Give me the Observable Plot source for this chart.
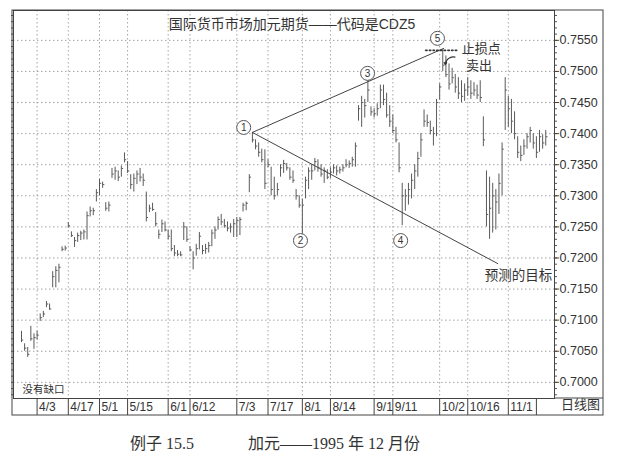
<!DOCTYPE html>
<html><head><meta charset="utf-8">
<script src="https://cdn.jsdelivr.net/npm/d3@7"></script>
<script src="https://cdn.jsdelivr.net/npm/@observablehq/plot@0.6"></script>
<style>
body{margin:0;background:#fff;width:620px;height:462px;position:relative;overflow:hidden}
#chart{position:absolute;left:0;top:0}
.cap{position:absolute;top:430px;font-family:'Liberation Serif','Noto Sans CJK SC',serif;font-size:16px;color:#333;white-space:pre}
</style></head>
<body>
<div id="chart"></div>
<div class="cap" style="left:130px">例子 15.5</div>
<div class="cap" style="left:248px">加元——1995 年 12 月份</div>
<script>
const title = "国际货币市场加元期货——代码是CDZ5";
const dateTicks = [5,15,25,34,47,54,69,79,90,99,113,119,134,143,156];
const dateLabels = ["4/3","4/17","5/1","5/15","6/1","6/12","7/3","7/17","8/1","8/14","9/1","9/11","10/2","10/16","11/1"];
const rowEnd = 165;
const yTicks = [0.7000,0.7050,0.7100,0.7150,0.7200,0.7250,0.7300,0.7350,0.7400,0.7450,0.7500,0.7550];

const highs = [.7082,.7062,.7056,.7090,.7078,.7082,.7110,.7114,.7130,.7126,
.7178,.7186,.7190,.7218,.7219,.7257,.7242,.7233,.7240,.7243,
.7245,.7274,.7282,.7280,.7310,.7326,.7322,.7289,.7290,.7344,
.7346,.7340,.7348,.7369,.7355,.7334,.7335,.7340,.7344,.7335,
.7306,.7285,.7288,.7273,.7245,.7261,.7258,.7245,.7245,.7220,
.7212,.7210,.7257,.7250,.7218,.7210,.7222,.7241,.7220,.7222,
.7225,.7245,.7250,.7266,.7270,.7262,.7258,.7255,.7262,.7265,
.7265,.7288,.7290,.7334,.7402,.7390,.7385,.7375,.7374,.7358,
.7346,.7330,.7320,.7350,.7357,.7352,.7345,.7340,.7310,.7300,
.7294,.7330,.7345,.7350,.7360,.7358,.7350,.7345,.7342,.7345,
.7350,.7348,.7346,.7350,.7358,.7356,.7362,.7385,.7445,.7460,
.7455,.7488,.7443,.7440,.7448,.7478,.7478,.7465,.7445,.7430,
.7410,.7385,.7320,.7310,.7320,.7335,.7350,.7370,.7400,.7438,
.7430,.7420,.7410,.7455,.7480,.7535,.7525,.7512,.7505,.7495,
.7490,.7485,.7480,.7490,.7485,.7482,.7478,.7485,.7427,.7340,
.7330,.7320,.7310,.7335,.7385,.7490,.7460,.7455,.7435,.7395,
.7380,.7390,.7400,.7410,.7400,.7395,.7405,.7398,.7405];
const lows = [.7064,.7050,.7040,.7066,.7053,.7068,.7098,.7104,.7120,.7116,
.7152,.7152,.7160,.7210,.7211,.7248,.7233,.7217,.7225,.7228,
.7229,.7229,.7266,.7268,.7290,.7300,.7312,.7275,.7274,.7328,
.7325,.7323,.7330,.7353,.7336,.7310,.7306,.7318,.7322,.7315,
.7258,.7273,.7275,.7250,.7230,.7241,.7242,.7229,.7210,.7202,
.7202,.7202,.7228,.7225,.7210,.7181,.7203,.7213,.7205,.7206,
.7208,.7218,.7230,.7245,.7252,.7248,.7242,.7240,.7233,.7233,
.7236,.7274,.7276,.7305,.7385,.7374,.7362,.7353,.7310,.7345,
.7300,.7293,.7300,.7330,.7336,.7340,.7325,.7320,.7293,.7280,
.7235,.7295,.7310,.7325,.7340,.7338,.7330,.7320,.7326,.7328,
.7335,.7332,.7335,.7338,.7345,.7344,.7346,.7346,.7420,.7410,
.7425,.7450,.7428,.7425,.7428,.7440,.7445,.7425,.7410,.7400,
.7385,.7337,.7252,.7275,.7285,.7295,.7310,.7330,.7362,.7410,
.7410,.7398,.7380,.7395,.7454,.7500,.7490,.7470,.7480,.7465,
.7455,.7450,.7452,.7460,.7455,.7460,.7455,.7450,.7379,.7250,
.7230,.7240,.7245,.7270,.7300,.7405,.7410,.7400,.7390,.7360,
.7355,.7365,.7375,.7385,.7375,.7360,.7370,.7375,.7380];
const closes = [.7068,.7055,.7045,.7070,.7072,.7076,.7104,.7110,.7126,.7118,
.7170,.7180,.7185,.7214,.7216,.7252,.7236,.7228,.7236,.7240,
.7242,.7268,.7276,.7276,.7305,.7320,.7318,.7280,.7285,.7335,
.7340,.7330,.7344,.7358,.7340,.7318,.7328,.7335,.7330,.7325,
.7265,.7280,.7278,.7255,.7238,.7255,.7245,.7235,.7215,.7208,
.7206,.7205,.7250,.7230,.7213,.7200,.7215,.7235,.7212,.7215,
.7220,.7240,.7245,.7262,.7258,.7252,.7248,.7250,.7255,.7260,
.7262,.7285,.7288,.7330,.7390,.7380,.7370,.7358,.7320,.7350,
.7310,.7300,.7310,.7345,.7352,.7345,.7330,.7325,.7300,.7285,
.7285,.7325,.7340,.7340,.7355,.7345,.7335,.7340,.7330,.7338,
.7345,.7340,.7342,.7345,.7350,.7352,.7358,.7380,.7440,.7450,
.7445,.7470,.7435,.7432,.7440,.7470,.7455,.7430,.7420,.7405,
.7390,.7345,.7300,.7300,.7310,.7325,.7340,.7360,.7390,.7420,
.7418,.7405,.7400,.7450,.7475,.7510,.7495,.7480,.7490,.7475,
.7465,.7460,.7470,.7475,.7465,.7470,.7462,.7458,.7390,.7270,
.7280,.7300,.7290,.7320,.7375,.7470,.7440,.7420,.7400,.7370,
.7365,.7380,.7395,.7405,.7385,.7370,.7395,.7385,.7395];

// annotation anchors (trading-day index, price)
const upperLine = [{i:74.0,p:0.74019},{i:135.3,p:0.75371}];
const lowerLine = [{i:74.0,p:0.74019},{i:152.6,p:0.71910}];
const circleLabels = ["1","2","3","4","5"];
const circleI = [71.2,89.4,110.9,121.5,133.3];
const circleP = [0.74099,0.72280,0.74969,0.72280,0.75532];
const stopLine = [{i:129.5,p:0.75339},{i:139.7,p:0.75339}];

const bars = highs.map((h,k)=>({i:k,high:h,low:lows[k],close:closes[k]}));
const circles = circleLabels.map((t,k)=>({t,i:circleI[k],p:circleP[k]}));
const font = "'Liberation Sans','Noto Sans CJK SC',sans-serif";
const minor = d3.range(0.698,0.7596,0.001);

const chart = Plot.plot({
  width:620, height:420,
  marginLeft:13, marginRight:66, marginTop:10, marginBottom:22,
  style:{fontFamily:font, fontSize:"12px", color:"#333", background:"#fff", overflow:"visible"},
  x:{domain:[-2.56,170.8]},
  y:{domain:[0.6974,0.7598]},
  marks:[
    Plot.gridY({ticks:yTicks, stroke:"#999", strokeOpacity:0.9, strokeDasharray:"1.5,2.5"}),
    Plot.gridX({ticks:dateTicks, stroke:"#999", strokeOpacity:0.9, strokeDasharray:"1.5,2.5"}),
    Plot.frame({stroke:"#444"}),
    Plot.axisY({anchor:"right", ticks:minor, tickSize:2, tickFormat:()=>"", stroke:"#555"}),
    Plot.axisY({anchor:"left", ticks:minor, tickSize:2, tickFormat:()=>"", stroke:"#555"}),
    Plot.axisY({anchor:"right", ticks:yTicks, tickSize:4, tickPadding:1, tickFormat:d=>d.toFixed(4), fontSize:12.5, fill:"#333", stroke:"#444"}),
    Plot.axisX({ticks:[...dateTicks,rowEnd], tickSize:17, tickFormat:()=>"", stroke:"#444"}),
    Plot.axisX({ticks:dateTicks, tickSize:0, tickPadding:4, textAnchor:"start", dx:2, fontSize:12, fill:"#333",
      tickFormat:d=>dateLabels[dateTicks.indexOf(d)]}),
    Plot.ruleX(bars,{x:"i", y1:"low", y2:"high", stroke:"#5a5a5a", strokeWidth:1}),
    Plot.link(bars,{x1:"i", x2:d=>d.i+0.55, y1:"close", y2:"close", stroke:"#5a5a5a", strokeWidth:1}),
    Plot.line(upperLine,{x:"i", y:"p", stroke:"#444", strokeWidth:1}),
    Plot.line(lowerLine,{x:"i", y:"p", stroke:"#444", strokeWidth:1}),
    Plot.line(stopLine,{x:"i", y:"p", stroke:"#333", strokeWidth:1.6, strokeDasharray:"1.5,2.2"}),
    Plot.arrow([{x1:138.9,y1:0.75230,x2:135.8,y2:0.75110}],{x1:"x1",y1:"y1",x2:"x2",y2:"y2", bend:-50, headLength:3, stroke:"#333", strokeWidth:1.2}),
    Plot.dot(circles,{x:"i", y:"p", r:7, fill:"#fff", stroke:"#555", strokeWidth:1}),
    Plot.text(circles,{x:"i", y:"p", text:"t", fontSize:10, fill:"#333"}),
    Plot.text([title],{frameAnchor:"top", dx:8, dy:9, fontSize:14, fill:"#333"}),
    Plot.text(["止损点"],{x:[147.3], y:[0.75365], fontSize:13, fill:"#333"}),
    Plot.text(["卖出"],{x:[146.6], y:[0.75085], fontSize:13, fill:"#333"}),
    Plot.text(["预测的目标"],{x:[159.3], y:[0.71716], fontSize:13.5, fill:"#333"}),
    Plot.text(["没有缺口"],{frameAnchor:"bottom-left", dx:9, dy:-6, textAnchor:"start", fontSize:10.5, fill:"#333"}),
    Plot.text(["日线图"],{frameAnchor:"bottom-right", dx:26, dy:10, textAnchor:"middle", fontSize:13, fill:"#333"})
  ]
});
document.getElementById("chart").appendChild(chart);
// outer box of the printed chart
const svg = d3.select(chart);
svg.append("rect").attr("x",12).attr("y",10).attr("width",591).attr("height",405)
  .attr("fill","none").attr("stroke","#444");
svg.append("line").attr("x1",554).attr("x2",603).attr("y1",398).attr("y2",398).attr("stroke","#444");
</script>
</body></html>
